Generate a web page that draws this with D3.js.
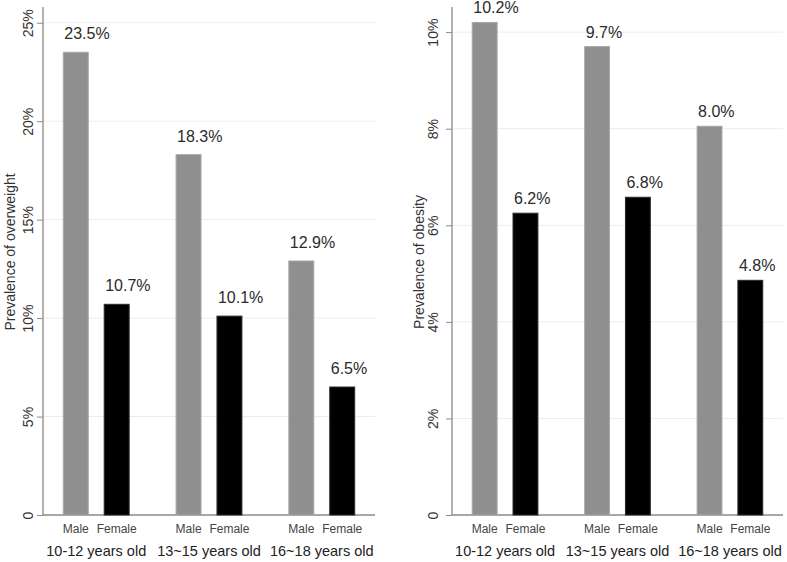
<!DOCTYPE html>
<html>
<head>
<meta charset="utf-8">
<script src="https://cdn.jsdelivr.net/npm/d3@7"></script>
<style>
  body { margin: 0; background: #fff; }
  text { font-family: "Liberation Sans", Arial, Helvetica, sans-serif; }
</style>
</head>
<body>
<div id="chart"></div>
<script>
// Data
const groups = ["10-12 years old", "13~15 years old", "16~18 years old"];
const sexes = ["Male", "Female"];

const overweightMale = [23.5, 18.3, 12.9];
const overweightFemale = [10.7, 10.1, 6.5];
const overweightLabels = [["23.5%", "10.7%"], ["18.3%", "10.1%"], ["12.9%", "6.5%"]];
const overweightTicks = [0, 5, 10, 15, 20, 25];

const obesityMale = [10.2, 9.7, 8.05];
const obesityFemale = [6.25, 6.58, 4.86];
const obesityLabels = [["10.2%", "6.2%"], ["9.7%", "6.8%"], ["8.0%", "4.8%"]];
const obesityTicks = [0, 2, 4, 6, 8, 10];

const width = 787, height = 562;
const yBottom = 515, yTop = 7;

const svg = d3.select("#chart").append("svg")
    .attr("width", width)
    .attr("height", height);

function drawPanel(opt) {
    const g = svg.append("g");

    const y = d3.scaleLinear().domain([0, opt.yMax]).range([yBottom, yTop]);
    const x0 = d3.scaleBand().domain(groups)
        .range([opt.left, opt.right])
        .paddingInner(0.416)
        .paddingOuter(0.18);
    const x1 = d3.scaleBand().domain(sexes)
        .range([0, x0.bandwidth()])
        .paddingInner(0.39)
        .paddingOuter(0);
    const color = d3.scaleOrdinal().domain(sexes).range(["#8f8f8f", "#000000"]);
    const stroke = d3.scaleOrdinal().domain(sexes).range(["#a8a8a8", "#2a2a2a"]);

    // gridlines
    g.append("g").selectAll("line")
        .data(opt.ticks.filter(d => d > 0))
        .join("line")
        .attr("x1", opt.left).attr("x2", opt.right)
        .attr("y1", d => y(d)).attr("y2", d => y(d))
        .attr("stroke", "#ececec").attr("stroke-width", 1);

    // y axis
    const yAxis = d3.axisLeft(y)
        .tickValues(opt.ticks)
        .tickSize(6)
        .tickFormat(d => d === 0 ? "0" : d + "%");
    const ya = g.append("g")
        .attr("transform", `translate(${opt.left},0)`)
        .call(yAxis);
    ya.select(".domain").attr("stroke", "#8a8a8a").attr("stroke-width", 1.3)
        .attr("d", `M0,${yTop}V${yBottom}`);
    ya.selectAll(".tick line").attr("stroke", "#8a8a8a");
    ya.selectAll(".tick text")
        .attr("font-size", 14)
        .attr("fill", "#333")
        .attr("x", null).attr("dy", null)
        .attr("text-anchor", "middle")
        .attr("transform", `translate(${-opt.tickGap},0) rotate(-90)`);

    // y axis title
    g.append("text")
        .attr("transform", `translate(${opt.titleX},${opt.titleY}) rotate(-90)`)
        .attr("text-anchor", "middle")
        .attr("font-size", 14)
        .attr("fill", "#333")
        .text(opt.title);

    // x baseline
    g.append("line")
        .attr("x1", opt.left).attr("x2", opt.right)
        .attr("y1", yBottom).attr("y2", yBottom)
        .attr("stroke", "#8a8a8a").attr("stroke-width", 1.3);

    const rows = groups.map((grp, i) => ({
        grp,
        bars: [
            { sex: "Male", val: opt.male[i], label: opt.labels[i][0] },
            { sex: "Female", val: opt.female[i], label: opt.labels[i][1] }
        ]
    }));

    const gg = g.append("g").selectAll("g")
        .data(rows)
        .join("g")
        .attr("transform", d => `translate(${x0(d.grp)},0)`);

    gg.selectAll("rect")
        .data(d => d.bars)
        .join("rect")
        .attr("x", d => x1(d.sex))
        .attr("width", x1.bandwidth())
        .attr("y", d => y(d.val))
        .attr("height", d => yBottom - y(d.val))
        .attr("fill", d => color(d.sex))
        .attr("stroke", d => stroke(d.sex))
        .attr("stroke-width", 1);

    gg.selectAll("text.val")
        .data(d => d.bars)
        .join("text")
        .attr("class", "val")
        .attr("x", d => x1(d.sex) + 1)
        .attr("y", d => y(d.val) - opt.labelGap)
        .attr("font-size", 16)
        .attr("fill", "#2b2b2b")
        .text(d => d.label);

    gg.selectAll("text.sex")
        .data(d => d.bars)
        .join("text")
        .attr("class", "sex")
        .attr("x", d => x1(d.sex) + x1.bandwidth() / 2)
        .attr("y", 533)
        .attr("text-anchor", "middle")
        .attr("font-size", 12)
        .attr("fill", "#444")
        .text(d => d.sex);

    gg.append("text")
        .attr("x", x0.bandwidth() / 2)
        .attr("y", 556)
        .attr("text-anchor", "middle")
        .attr("font-size", 14.5)
        .attr("fill", "#222")
        .text(d => d.grp);
}

drawPanel({
    left: 43, right: 375, yMax: 25.8,
    ticks: overweightTicks,
    male: overweightMale, female: overweightFemale, labels: overweightLabels,
    title: "Prevalence of overweight", titleX: 15, titleY: 252,
    tickGap: 10, labelGap: 13
});

drawPanel({
    left: 452, right: 783, yMax: 10.52,
    ticks: obesityTicks,
    male: obesityMale, female: obesityFemale, labels: obesityLabels,
    title: "Prevalence of obesity", titleX: 424, titleY: 262,
    tickGap: 14, labelGap: 9
});
</script>
</body>
</html>
